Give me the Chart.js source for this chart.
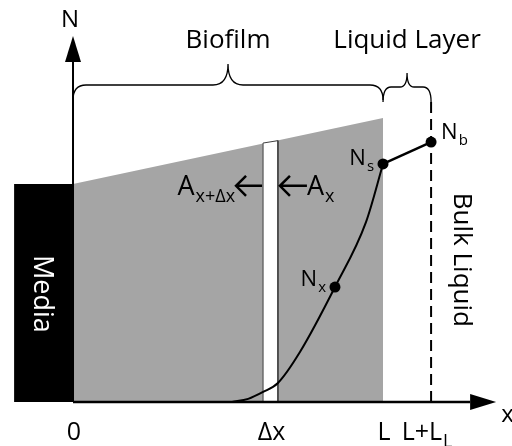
<!DOCTYPE html>
<html>
<head>
<meta charset="utf-8">
<script src="https://cdn.jsdelivr.net/npm/chart.js@4.4.0/dist/chart.umd.min.js"></script>
<style>
  html, body { margin: 0; padding: 0; background: #fff; }
  canvas { display: block; }
</style>
</head>
<body>
<canvas id="biofilmChart" width="512" height="446"></canvas>
<script>
// x in units of biofilm thickness (L = 1), N in arbitrary concentration units
const mediaX = [-0.19, 0];
const mediaN = [91.6, 91.6];

const biofilmX = [0, 1];
const biofilmN = [91.6, 119.3];

const sliceX = [0.613, 0.613, 0.661, 0.661];
const sliceN = [0, 108.8, 109.8, 0];

const profileX = [0.513, 0.565, 0.613, 0.661, 0.732, 0.845, 0.945, 1.0];
const profileN = [0, 1.3, 4.2, 8.0, 21.0, 48.3, 75.6, 100];

const layerX = [1.0, 1.155];
const layerN = [100, 109.2];

const markerLabels = [["N", "x"], ["N", "s"], ["N", "b"]];
const markerX = [0.845, 1.0, 1.155];
const markerN = [48.3, 100, 109.2];

const bulkX = 1.155;
const bulkTop = 126;
const fluxN = 90.8;

const tickValues = [0, 0.637, 1, 1.155];
const tickLabels = [["0", ""], ["Δx", ""], ["L", ""], ["L+L", "L"]];

const FONT = '"Open Sans", "DejaVu Sans", sans-serif';

const pts = (xs, ys) => xs.map((x, i) => ({ x, y: ys[i] }));

function drawSub(ctx, main, sub, x, y, size, align, ratio = 0.7) {
    const subSize = Math.round(size * ratio);
    ctx.font = `${size}px ${FONT}`;
    const w1 = ctx.measureText(main).width;
    ctx.font = `${subSize}px ${FONT}`;
    const w2 = sub ? ctx.measureText(sub).width + 1 : 0;
    let left = x;
    if (align === "right") left = x - w1 - w2;
    if (align === "center") left = x - (w1 + w2) / 2;
    ctx.textAlign = "left";
    ctx.textBaseline = "alphabetic";
    ctx.font = `${size}px ${FONT}`;
    ctx.fillText(main, left, y);
    if (sub) {
        ctx.font = `${subSize}px ${FONT}`;
        ctx.fillText(sub, left + w1 + 1, y + size * 0.27);
    }
}

function brace(ctx, x1, x2, yLine, yEnd, yTip, rEnd, rMid) {
    const xm = (x1 + x2) / 2;
    ctx.beginPath();
    ctx.moveTo(x1, yEnd);
    ctx.quadraticCurveTo(x1, yLine, x1 + rEnd, yLine);
    ctx.lineTo(xm - rMid, yLine);
    ctx.quadraticCurveTo(xm, yLine, xm, yTip);
    ctx.quadraticCurveTo(xm, yLine, xm + rMid, yLine);
    ctx.lineTo(x2 - rEnd, yLine);
    ctx.quadraticCurveTo(x2, yLine, x2, yEnd);
    ctx.stroke();
}

function leftArrow(ctx, tip, tail, y) {
    ctx.beginPath();
    ctx.moveTo(tail, y);
    ctx.lineTo(tip, y);
    ctx.moveTo(tip + 10, y - 10);
    ctx.lineTo(tip, y);
    ctx.lineTo(tip + 10, y + 10);
    ctx.stroke();
}

// axis arrows, braces and all text
const annotations = {
    id: "annotations",
    afterDatasetsDraw(chart) {
        const { ctx, scales: { x, y } } = chart;
        const x0 = x.getPixelForValue(0);
        const y0 = y.getPixelForValue(0);
        ctx.save();
        ctx.fillStyle = "#000";
        ctx.strokeStyle = "#000";

        // arrow heads
        const yTop = y.getPixelForValue(142.9);
        ctx.beginPath();
        ctx.moveTo(x0, yTop - 26);
        ctx.lineTo(x0 - 8, yTop);
        ctx.lineTo(x0 + 8, yTop);
        ctx.closePath();
        ctx.fill();
        const xEnd = x.getPixelForValue(1.281);
        ctx.beginPath();
        ctx.moveTo(xEnd + 26, y0);
        ctx.lineTo(xEnd, y0 - 8);
        ctx.lineTo(xEnd, y0 + 8);
        ctx.closePath();
        ctx.fill();

        ctx.font = `24px ${FONT}`;
        ctx.textAlign = "center";
        ctx.fillText("N", x0 - 3, 27);
        ctx.textAlign = "left";
        ctx.fillText("x", xEnd + 31, y0 + 20);

        // braces
        ctx.lineWidth = 1.3;
        const xL = x.getPixelForValue(1);
        const xB = x.getPixelForValue(bulkX);
        brace(ctx, x0, xL, 85, 100, 64, 13, 15);
        brace(ctx, xL, xB, 87, 102, 73, 8, 7);
        ctx.font = `26px ${FONT}`;
        ctx.textAlign = "center";
        ctx.fillText("Biofilm", (x0 + xL) / 2, 48);
        ctx.fillText("Liquid Layer", (xL + xB) / 2, 48);

        // flux arrows around the slice
        const sL = x.getPixelForValue(sliceX[0]);
        const sR = x.getPixelForValue(sliceX[2]);
        const fy = y.getPixelForValue(fluxN);
        ctx.lineWidth = 2.5;
        leftArrow(ctx, sL - 27, sL - 1, fy);
        leftArrow(ctx, sR + 2, sR + 29, fy);
        drawSub(ctx, "A", "x+Δx", sL - 28, fy + 9, 27, "right", 0.68);
        drawSub(ctx, "A", "x", sR + 29, fy + 9, 27, "left", 0.68);

        // point labels
        markerLabels.forEach((lab, i) => {
            const px = x.getPixelForValue(markerX[i]);
            const py = y.getPixelForValue(markerN[i]);
            if (i === 2) drawSub(ctx, lab[0], lab[1], px + 10, py - 3, 22, "left");
            else drawSub(ctx, lab[0], lab[1], px - 9, py + (i === 0 ? -1 : 1), 22, "right");
        });

        // tick labels
        tickValues.forEach((v, i) => {
            const px = x.getPixelForValue(v);
            drawSub(ctx, tickLabels[i][0], tickLabels[i][1], px + (i === 3 ? -4 : 1), y0 + 38, 25, "center");
        });

        // rotated labels
        ctx.textAlign = "center";
        ctx.textBaseline = "middle";
        ctx.save();
        ctx.translate(x.getPixelForValue(-0.1), y.getPixelForValue(45.4));
        ctx.rotate(Math.PI / 2);
        ctx.fillStyle = "#fff";
        ctx.font = `27px ${FONT}`;
        ctx.fillText("Media", 0, 0);
        ctx.restore();
        ctx.save();
        ctx.translate(xB + 30, y.getPixelForValue(59.7));
        ctx.rotate(Math.PI / 2);
        ctx.font = `26px ${FONT}`;
        ctx.fillText("Bulk Liquid", 0, 0);
        ctx.restore();

        ctx.restore();
    },
};

new Chart(document.getElementById("biofilmChart"), {
    type: "line",
    data: {
        datasets: [
            {
                label: "Biofilm",
                data: pts(biofilmX, biofilmN),
                fill: "origin",
                backgroundColor: "#a5a5a5",
                borderWidth: 0,
                pointRadius: 0,
                order: 10,
            },
            {
                label: "Media",
                data: pts(mediaX, mediaN),
                fill: "origin",
                backgroundColor: "#000",
                borderWidth: 0,
                pointRadius: 0,
                order: 9,
            },
            {
                label: "Slice",
                data: pts(sliceX, sliceN),
                fill: "origin",
                backgroundColor: "#fff",
                borderColor: "#404040",
                borderWidth: 1,
                pointRadius: 0,
                order: 8,
            },
            {
                label: "Bulk",
                data: [{ x: bulkX, y: bulkTop }, { x: bulkX, y: 0 }],
                borderColor: "#000",
                borderWidth: 2,
                borderDash: [11, 6],
                pointRadius: 0,
                order: 7,
            },
            {
                label: "x axis",
                data: [{ x: 0, y: 0 }, { x: 1.281, y: 0 }],
                borderColor: "#000",
                borderWidth: 2.5,
                pointRadius: 0,
                order: 6,
            },
            {
                label: "N axis",
                data: [{ x: 0, y: 0 }, { x: 0, y: 142.9 }],
                borderColor: "#000",
                borderWidth: 2,
                pointRadius: 0,
                order: 6,
            },
            {
                label: "Profile",
                data: pts(profileX, profileN),
                cubicInterpolationMode: "monotone",
                borderColor: "#000",
                borderWidth: 2,
                pointRadius: 0,
                order: 5,
            },
            {
                label: "Liquid layer",
                data: pts(layerX, layerN),
                borderColor: "#000",
                borderWidth: 2.5,
                pointRadius: 0,
                order: 4,
            },
            {
                label: "Points",
                data: pts(markerX, markerN),
                showLine: false,
                pointRadius: 5.5,
                pointBackgroundColor: "#000",
                pointBorderWidth: 0,
                order: 1,
            },
        ],
    },
    options: {
        responsive: false,
        animation: false,
        devicePixelRatio: 1,
        layout: { padding: 0, autoPadding: false },
        scales: {
            x: { type: "linear", display: false, min: -0.2355, max: 1.416 },
            y: { type: "linear", display: false, min: -18.5, max: 168.9 },
        },
        plugins: { legend: { display: false }, tooltip: { enabled: false } },
    },
    plugins: [annotations],
});
</script>
</body>
</html>
